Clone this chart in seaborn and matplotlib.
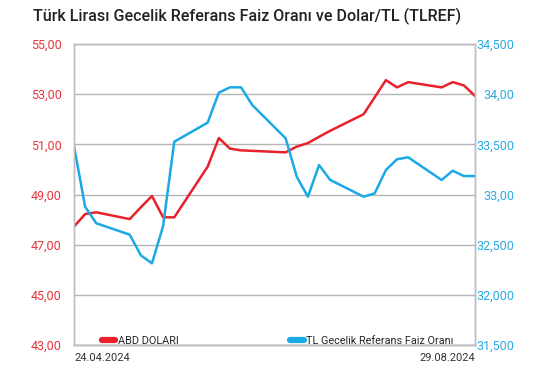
import seaborn as sns
import matplotlib.pyplot as plt
import pandas as pd

# gunler (0 = 24.04.2024, 36 = 29.08.2024)
gun = [0, 1, 2, 5, 6, 7, 8, 9, 12, 13, 14, 15, 16, 19, 20, 21, 22, 23,
       26, 27, 28, 29, 30, 33, 34, 35, 36]
dolar = [47.72, 48.22, 48.29, 48.02, 48.49, 48.94, 48.09, 48.09, 50.11,
         51.25, 50.83, 50.76, 50.74, 50.68, 50.91, 51.05, 51.30, 51.54,
         52.20, 52.88, 53.56, 53.27, 53.48, 53.27, 53.48, 53.35, 52.93]
tlref = [33483, 32878, 32713, 32600, 32394, 32314, 32686, 33526, 33716,
         34015, 34068, 34068, 33892, 33560, 33177, 32978, 33294, 33145,
         32978, 33012, 33244, 33351, 33371, 33145, 33237, 33184, 33184]

sol_etiket = ["43,00", "45,00", "47,00", "49,00", "51,00", "53,00", "55,00"]
sag_etiket = ["31,500", "32,000", "32,500", "33,00", "33,500", "34,00", "34,500"]
tarih_etiket = ["24.04.2024", "29.08.2024"]

df = pd.DataFrame({"gun": gun, "dolar": dolar, "tlref": tlref})

sns.set_style("white")
plt.rcParams["font.family"] = ["Roboto", "DejaVu Sans"]

kirmizi = "#e8212b"
mavi = "#1ba9e6"

fig = plt.figure(figsize=(5.51, 3.68), dpi=100)
ax = fig.add_axes([74 / 551, 1 - 345 / 368, 401 / 551, 301 / 368])
ax2 = ax.twinx()

sns.lineplot(data=df, x="gun", y="dolar", ax=ax, color=kirmizi, lw=1.8,
             label="ABD DOLARI", legend=False)
sns.lineplot(data=df, x="gun", y="tlref", ax=ax2, color=mavi, lw=1.8,
             label="TL Gecelik Referans Faiz Oranı", legend=False)

ax.set_xlim(0, 36)
ax.set_ylim(43, 55)
ax2.set_ylim(31500, 34500)

ax.set_yticks([43, 45, 47, 49, 51, 53, 55])
ax.set_yticklabels(sol_etiket, color="#e8343c", fontsize=9)
ax2.set_yticks([31500, 32000, 32500, 33000, 33500, 34000, 34500])
ax2.set_yticklabels(sag_etiket, color="#2aaae2", fontsize=9, ha="right")
ax.tick_params(axis="y", length=0, pad=9)
ax2.tick_params(axis="y", length=0, pad=28)

ax.set_xticks([0, 36])
ax.set_xticklabels(tarih_etiket, color="#333333", fontsize=8)
ax.get_xticklabels()[0].set_ha("left")
ax.get_xticklabels()[1].set_ha("right")
ax.tick_params(axis="x", length=0, pad=6)

ax.set_xlabel("")
ax.set_ylabel("")
ax2.set_ylabel("")

ax.grid(axis="y", color="#b4b4b4", lw=1)
ax.set_axisbelow(True)
for a in (ax, ax2):
    for s in a.spines.values():
        s.set_color("#bdbdbd")
        s.set_linewidth(1)
ax.spines["bottom"].set_color("#8c8c8c")

h1, l1 = ax.get_legend_handles_labels()
h2, l2 = ax2.get_legend_handles_labels()
leg = ax2.legend(h1 + h2, l1 + l2, ncol=2, frameon=False, fontsize=7.8,
                 loc="lower left", bbox_to_anchor=(0.045, -0.035),
                 handlelength=1.25, handletextpad=0.2, columnspacing=10.3)
for ln in leg.get_lines():
    ln.set_linewidth(4.5)
    ln.set_solid_capstyle("round")

fig.text(33 / 551, 1 - 16 / 368, "Türk Lirası Gecelik Referans Faiz Oranı ve Dolar/TL (TLREF)",
         fontsize=11.6, fontweight="medium", color="#222222", va="center", ha="left")

plt.savefig("out.png", dpi=100)
